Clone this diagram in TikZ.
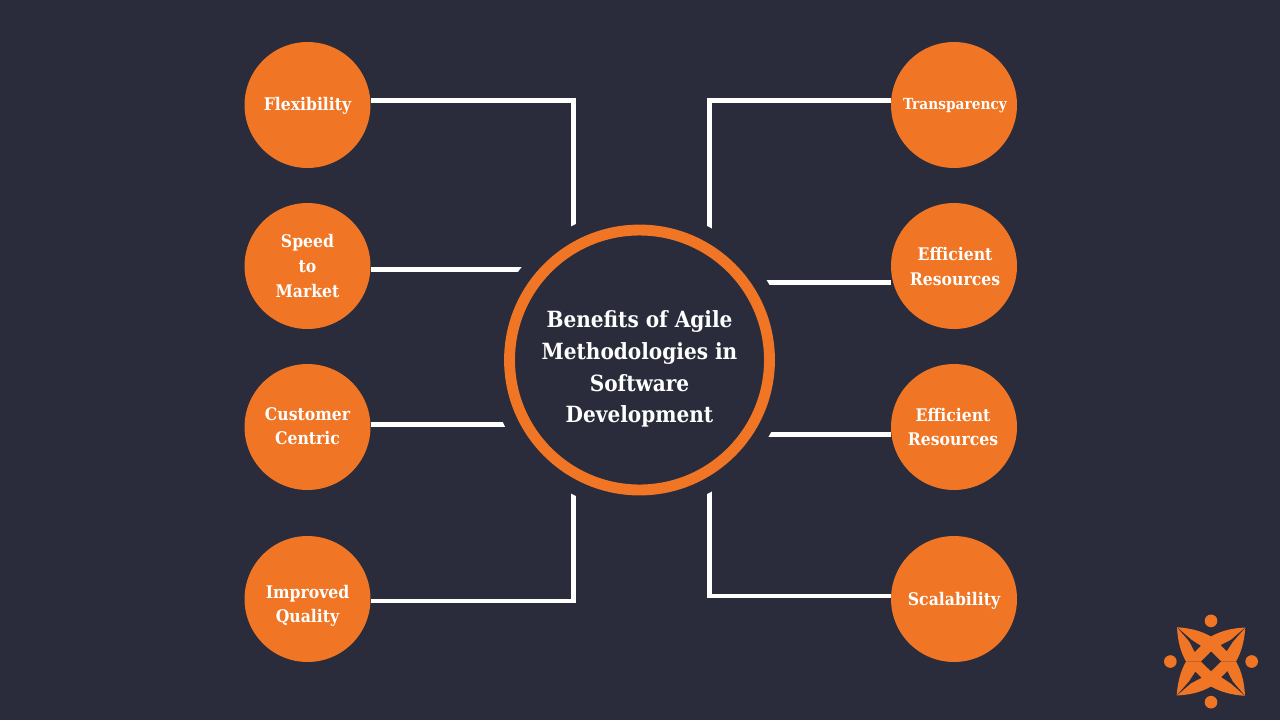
\documentclass[tikz,border=0pt]{standalone}
\usepackage{fontspec}
\setmainfont{DejaVu Serif Condensed}[BoldFont={DejaVu Serif Condensed Bold}]
\definecolor{slate}{RGB}{42,44,59}
\definecolor{agileorange}{RGB}{240,117,36}

\tikzset{
  benefit/.style={circle, fill=agileorange, minimum size=2.52cm, inner sep=0pt},
  caption/.style={text=white, inner sep=0pt, align=center, font=\fontsize{9.9}{14}\selectfont\bfseries},
  link/.style={draw=white, line width=2.7pt},
}

\begin{document}
\begin{tikzpicture}[x=0.02cm, y=-0.02cm]

  \useasboundingbox (0,0) rectangle (1280,720);
  \fill[slate] (0,0) rectangle (1280,720);

  % left column
  \node[benefit] (flex) at (307.5,105) {};
  \node[benefit] (speed) at (307.5,266) {};
  \node[benefit] (customer) at (307.5,427) {};
  \node[benefit] (quality) at (307.5,599) {};

  \node[caption] (flextext) at ([shift={(0,1)}]flex) {Flexibility};
  \node[caption] (speedtext) at (speed) {Speed\\to\\Market};
  \node[caption] (customertext) at ([shift={(0,-1)}]customer) {Customer\\Centric};
  \node[caption] (qualitytext) at ([shift={(0,7)}]quality) {Improved\\Quality};

  % right column
  \node[benefit] (transp) at (954,105) {};
  \node[benefit] (effone) at (954,266) {};
  \node[benefit] (efftwo) at (954,427) {};
  \node[benefit] (scale) at (954,599) {};

  \node[caption, font=\fontsize{8.7}{14}\selectfont\bfseries] (transptext) at ([shift={(1,1)}]transp) {Transparency};
  \node[caption] (effonetext) at ([shift={(1,0.5)}]effone) {Efficient\\Resources};
  \node[caption] (efftwotext) at ([shift={(-1,0)}]efftwo) {Efficient\\Resources};
  \node[caption] (scaletext) at ([shift={(0,2)}]scale) {Scalability};

  \coordinate (hub) at (639.5,360);
  \coordinate (topleft) at (573.5,300);
  \coordinate (topright) at (709.5,300);
  \coordinate (botleft) at (573.5,420);
  \coordinate (botright) at (709.5,420);

  \draw[link] (flex.east |- 0,100.5) -| (topleft);
  \draw[link, line width=3.1pt] (speed.east |- 0,269.5) -- (hub |- 0,269.5);
  \draw[link] (customer.east |- 0,424.5) -- (hub |- 0,424.5);
  \draw[link] (quality.east |- 0,601) -| (botleft);
  \draw[link] (transp.west |- 0,100.5) -| (topright);
  \draw[link] (effone.west |- 0,282.5) -- (hub |- 0,282.5);
  \draw[link] (efftwo.west |- 0,434.5) -- (hub |- 0,434.5);
  \draw[link] (scale.west |- 0,596) -| (botright);

  % centre
  \node[circle, fill=slate, minimum size=6cm, inner sep=0pt] (gap) at (hub) {};
  \node[circle, draw=agileorange, line width=6.2pt, minimum size=5.2cm, inner sep=0pt] (title) at (hub) {};
  \node[caption, font=\fontsize{12.7}{18.1}\selectfont\bfseries] (titletext) at ([shift={(0,9)}]hub)
    {Benefits of Agile\\Methodologies in\\Software\\Development};

  % logo
  \begin{scope}[shift={(1211,661.5)}, x=0.00667cm, y=-0.00667cm]
    \foreach \theta in {0,90,180,270}{
      \begin{scope}[rotate=\theta]
        \fill[agileorange] (0,-122) circle [radius=19];
        \fill[agileorange] (0,0) -- (-75,0) .. controls (-92,-30) and (-100,-62) .. (-102,-103)
          .. controls (-62,-100) and (-30,-92) .. (0,-75) -- cycle;
        \fill[slate] (-102,-103) -- (-60,-66) -- (-31,-47) -- (-49,-29) -- (-65,-60) -- cycle;
      \end{scope}
    }
    \fill[slate] (0,-30) -- (30,0) -- (0,29) -- (-30,0) -- cycle;
  \end{scope}

\end{tikzpicture}
\end{document}
